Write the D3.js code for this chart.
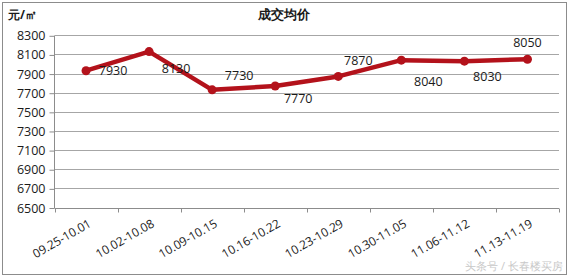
<!DOCTYPE html>
<html><head><meta charset="utf-8">
<script src="https://cdn.jsdelivr.net/npm/d3@7/dist/d3.min.js"></script>
<style>
html,body{margin:0;padding:0;background:#fff;}
svg{display:block;}
text{font-family:"Open Sans","Liberation Sans",sans-serif;}
</style></head>
<body>
<svg id="chart" width="570" height="278"></svg>
<script>
const categories = ["09.25-10.01","10.02-10.08","10.09-10.15","10.16-10.22","10.23-10.29","10.30-11.05","11.06-11.12","11.13-11.19"];
const values = [7930, 8130, 7730, 7770, 7870, 8040, 8030, 8050];
const yTicks = [6500, 6700, 6900, 7100, 7300, 7500, 7700, 7900, 8100, 8300];
const title = "成交均价";
const unitLabel = "元/㎡";
const watermark = "头条号 / 长春楼买房";
// label offsets relative to point (style/layout)
const labelOffsets = [[27,0],[27,17],[27,-14],[23,13],[20,-16],[27,21],[23,15],[0,-17]];

const svg = d3.select("#chart");
const mLeft = 54.5, mRight = 559, mTop = 35.3, mBottom = 207.5;
const color = "#B3121B";

svg.append("rect").attr("x",2.5).attr("y",2.5).attr("width",564).attr("height",272)
  .attr("fill","#fff").attr("stroke","#8c8c8c").attr("stroke-width",1);

const x = d3.scaleBand().domain(categories).range([mLeft, mRight]).padding(0);
const y = d3.scaleLinear().domain([6500, 8300]).range([mBottom, mTop]);
const cx = d => x(d) + x.bandwidth()/2;

// gridlines
svg.append("g").selectAll("line").data(yTicks.filter(t=>t!==6500)).join("line")
  .attr("x1", mLeft).attr("x2", mRight)
  .attr("y1", d=>Math.round(y(d))+0.5).attr("y2", d=>Math.round(y(d))+0.5)
  .attr("stroke","#a6a6a6").attr("stroke-width",1);

// y axis
const yAxis = d3.axisLeft(y).tickValues(yTicks).tickSize(5).tickPadding(4).tickFormat(d3.format("d"));
const gy = svg.append("g").attr("transform",`translate(${mLeft},0.5)`).call(yAxis);
gy.select(".domain").attr("stroke","#8c8c8c").attr("d",`M0,${mTop}V${mBottom}`);
gy.selectAll(".tick line").attr("stroke","#8c8c8c");
gy.selectAll(".tick text").attr("font-size","12.5px").attr("fill","#1a1a1a")
  .attr("font-family","'Open Sans',sans-serif");

// x axis line
svg.append("line").attr("x1",mLeft).attr("x2",mRight)
  .attr("y1",Math.round(mBottom)+0.5).attr("y2",Math.round(mBottom)+0.5)
  .attr("stroke","#8c8c8c");
// x ticks at band boundaries
const bounds = categories.map(c=>x(c)).concat([x.range()[1]]);
svg.append("g").selectAll("line").data(bounds).join("line")
  .attr("x1",d=>Math.round(d)+0.5).attr("x2",d=>Math.round(d)+0.5)
  .attr("y1",Math.round(mBottom)+0.5).attr("y2",Math.round(mBottom)+4.5)
  .attr("stroke","#8c8c8c");
// x labels
svg.append("g").selectAll("text").data(categories).join("text")
  .attr("text-anchor","end")
  .attr("transform",d=>`translate(${cx(d)+6},${226}) rotate(-30)`)
  .attr("font-size","12px").attr("fill","#1a1a1a")
  .text(d=>d);

// line
const line = d3.line().x((d,i)=>cx(categories[i])).y(d=>y(d));
svg.append("path").datum(values).attr("d",line)
  .attr("fill","none").attr("stroke",color).attr("stroke-width",4.5)
  .attr("stroke-linejoin","round");
svg.append("g").selectAll("circle").data(values).join("circle")
  .attr("cx",(d,i)=>cx(categories[i])).attr("cy",d=>y(d)).attr("r",4.5)
  .attr("fill",color);

// data labels
svg.append("g").selectAll("text").data(values).join("text")
  .attr("x",(d,i)=>cx(categories[i])+labelOffsets[i][0])
  .attr("y",(d,i)=>y(d)+labelOffsets[i][1])
  .attr("dy","0.35em").attr("text-anchor","middle")
  .attr("font-size","12.5px").attr("fill","#1a1a1a")
  .text(d=>d);

// title and unit
svg.append("text").attr("x",284).attr("y",19).attr("text-anchor","middle")
  .attr("font-size","13px").attr("font-weight","bold").attr("fill","#1a1a1a")
  .attr("font-family","'Noto Sans CJK SC',sans-serif").text(title);
svg.append("text").attr("x",8).attr("y",19)
  .attr("font-size","12px").attr("font-weight","bold").attr("fill","#1a1a1a")
  .attr("font-family","'Noto Sans CJK SC',sans-serif").text(unitLabel);
svg.append("text").attr("x",563).attr("y",270).attr("text-anchor","end")
  .attr("font-size","11px").attr("fill","#c8c8c8")
  .attr("font-family","'Noto Sans CJK SC',sans-serif").text(watermark);
</script>
</body></html>
